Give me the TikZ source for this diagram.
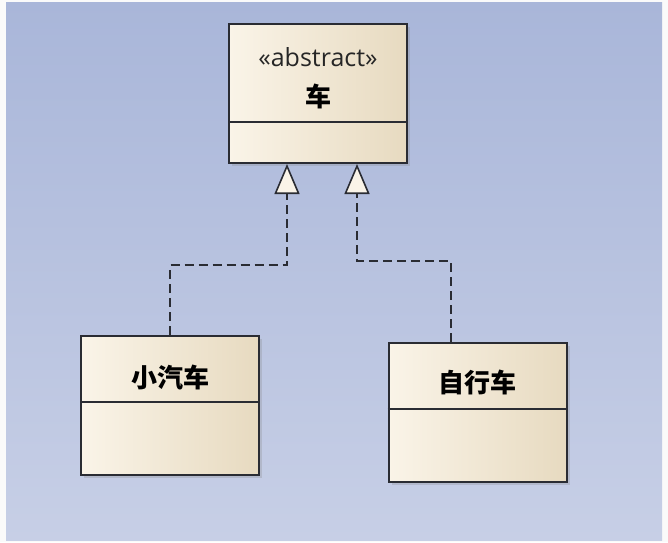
\documentclass[tikz,border=0pt]{standalone}
\usepackage{fontspec}
\setmainfont{Open Sans}
\newfontfamily\cjk{Noto Sans CJK SC}
\usepackage{xcolor}
\usetikzlibrary{arrows.meta, shadows, positioning}

\definecolor{bgtop}{HTML}{A9B6D9}
\definecolor{bgbottom}{HTML}{C7CFE6}
\definecolor{creamL}{HTML}{FAF4E8}
\definecolor{creamR}{HTML}{E7DAC0}
\definecolor{edge}{HTML}{2A2C33}

\begin{document}
\begin{tikzpicture}[x=1pt, y=-1pt,
  classbox/.style={rectangle, draw=edge, line width=2pt,
    left color=creamL, right color=creamR,
    drop shadow={opacity=0.25, shadow xshift=3pt, shadow yshift=-3pt},
    minimum width=178pt, minimum height=139pt, inner sep=0pt},
  %
  stereo/.style={font=\fontsize{25}{27}\selectfont, text=black!85, inner sep=0pt},
  %
  classname/.style={font=\cjk\bfseries\fontsize{26}{28}\selectfont, inner sep=0pt},
  %
  realize/.style={draw=edge, line width=2pt, dash pattern=on 9pt off 5pt,
    -{Triangle[open, length=30pt, width=25pt, fill=creamL, line width=1.6pt]}}
  ]

  % background
  \fill[black!2] (0,0) rectangle (668,542);
  \shade[top color=bgtop, bottom color=bgbottom] (6,2) rectangle (662,540);

  \begin{scope}
    % abstract class
    \node [classbox] (car) at (318,93.5) {};
    \node [stereo] (carstereo) at (318,57) {\guillemotleft abstract\guillemotright};
    \node [classname] (cartitle) at (318,96) {车};
    \draw [edge, line width=2pt] (car.west |- 0,122) -- (car.east |- 0,122);
    %
    \node [classbox] (smallcar) at (170,405) {};
    \node [classname] (smallcartitle) at (170,377) {小汽车};
    \draw [edge, line width=2pt] (smallcar.west |- 0,402) -- (smallcar.east |- 0,402);
    %
    \node [classbox] (bike) at (477.5,412) {};
    \node [classname] (biketitle) at (477.5,382) {自行车};
    \draw [edge, line width=2pt] (bike.west |- 0,409) -- (bike.east |- 0,409);
  \end{scope}

  \begin{scope}
    \coordinate (bendL) at (287,265);
    \coordinate (bendR) at (357,261);
    \draw [realize] (smallcar.north) |- (bendL) -- (car.south -| bendL);
    \draw [realize] ([xshift=-26.5pt]bike.north) |- (bendR) -- (car.south -| bendR);
  \end{scope}

\end{tikzpicture}
\end{document}
